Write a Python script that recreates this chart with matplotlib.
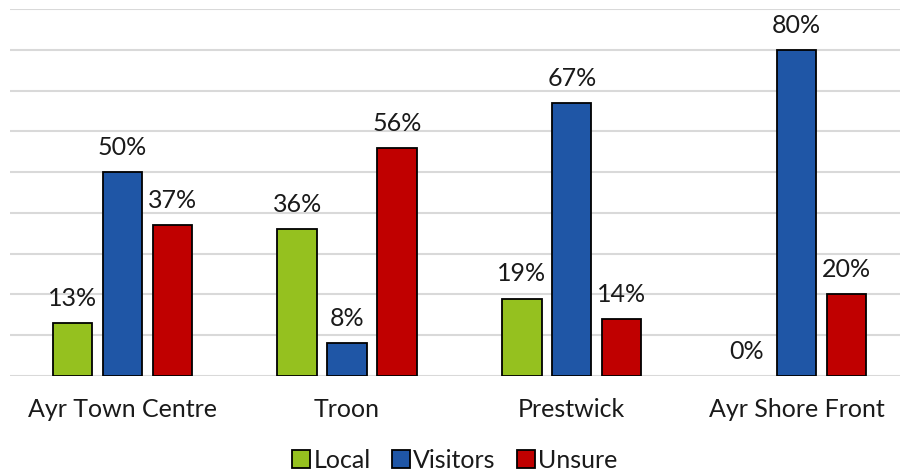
import matplotlib.pyplot as plt
import numpy as np

plt.rcParams["font.family"] = ["Lato", "DejaVu Sans"]

locations = ["Ayr Town Centre", "Troon", "Prestwick", "Ayr Shore Front"]
series = ["Local", "Visitors", "Unsure"]
local = [13, 36, 19, 0]
visitors = [50, 8, 67, 80]
unsure = [37, 56, 14, 20]
colors = ["#95C11F", "#1F56A6", "#C00000"]

fig = plt.figure(figsize=(9, 4.72), dpi=100)
ax = fig.add_axes([0.011, 0.2034, 0.989, 0.7775])

x = np.arange(len(locations))
width = 0.175
offsets = [-0.222, 0, 0.222]

for vals, name, col, off in zip([local, visitors, unsure], series, colors, offsets):
    bars = ax.bar(x + off, vals, width, color=col, edgecolor="black",
                  linewidth=1.3, label=name, zorder=3)
    for b, v in zip(bars, vals):
        if v == 0:
            b.set_visible(False)
        ax.text(b.get_x() + b.get_width() / 2, v + 3.2, f"{v}%",
                ha="center", va="bottom", fontsize=18, color="#1a1a1a")

ax.set_ylim(0, 90)
ax.set_xlim(-0.5, 3.46)
ax.set_yticks(np.arange(0, 91, 10))
ax.yaxis.grid(True, color="#D9D9D9", linewidth=1.5, zorder=0)
ax.tick_params(axis="y", left=False, labelleft=False)
ax.tick_params(axis="x", bottom=False, labelsize=18, labelcolor="#1a1a1a", pad=12)
ax.set_xticks(x)
ax.set_xticklabels(locations)
for s in ax.spines.values():
    s.set_visible(False)

ax.legend(loc="lower center", bbox_to_anchor=(0.5, -0.322), ncol=3,
          frameon=False, fontsize=18, handlelength=0.7, handleheight=0.7,
          handletextpad=0.15, columnspacing=0.85, labelcolor="#1a1a1a")

fig.savefig("out.png", dpi=100)
